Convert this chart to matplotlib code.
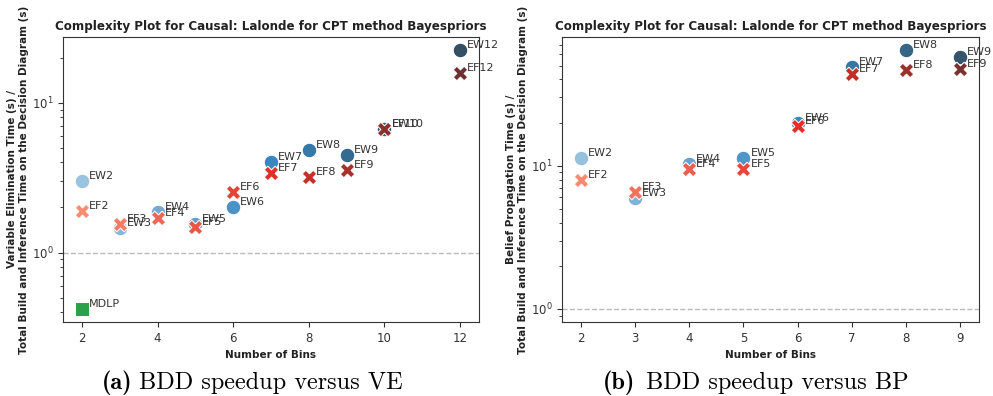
import matplotlib
matplotlib.use("Agg")
import matplotlib.pyplot as plt
import seaborn as sns

sns.set_style("ticks")
plt.rcParams['font.family'] = ['DejaVu Sans']

# Left panel: VE speedup
ve_bins = [2, 3, 4, 5, 6, 7, 8, 9, 10, 12]
ve_ew = [3.02, 1.47, 1.88, 1.54, 2.03, 4.04, 4.86, 4.50, 6.70, 22.6]
ve_ef = [1.90, 1.56, 1.71, 1.49, 2.55, 3.41, 3.21, 3.58, 6.70, 15.8]
ve_mdlp = 0.42

# Right panel: BP speedup
bp_bins = [2, 3, 4, 5, 6, 7, 8, 9]
bp_ew = [11.3, 5.97, 10.3, 11.3, 20.0, 49.2, 64.4, 57.8]
bp_ef = [7.94, 6.58, 9.53, 9.53, 19.05, 43.5, 46.2, 47.2]

title = "Complexity Plot for Causal: Lalonde for CPT method Bayespriors"
ve_ylabel = "Variable Elimination Time (s) /\nTotal Build and Inference Time on the Decision Diagram (s)"
bp_ylabel = "Belief Propagation Time (s) /\nTotal Build and Inference Time on the Decision Diagram (s)"

fig = plt.figure(figsize=(9.93, 3.96), dpi=100)
ax1 = fig.add_axes([0.0634, 0.187, 0.419, 0.72])
ax2 = fig.add_axes([0.566, 0.187, 0.420, 0.72])


def draw(ax, bins, ew, ef, ylabel):
    blues = sns.color_palette("Blues_d", len(bins) + 1)
    reds = sns.color_palette("Reds_d", len(bins) + 1)
    ax.axhline(1, color="#bbbbbb", ls="--", lw=1, zorder=1)
    for i, b in enumerate(bins):
        ax.scatter(b, ew[i], s=110, marker="o", color=blues[i],
                   edgecolor="white", linewidth=0.75, zorder=3)
        ax.annotate("EW%d" % b, (b, ew[i]), xytext=(5, 0), textcoords="offset points",
                    fontsize=8, color="#333333", va="bottom", zorder=5)
    for i, b in enumerate(bins):
        ax.scatter(b, ef[i], s=110, marker="X", color=reds[i],
                   edgecolor="white", linewidth=0.75, zorder=4)
        ax.annotate("EF%d" % b, (b, ef[i]), xytext=(5, 0), textcoords="offset points",
                    fontsize=8, color="#333333", va="bottom", zorder=5)
    ax.set_yscale("log")
    ax.set_title(title, fontsize=8.6, fontweight="bold", color="#222222", pad=5)
    ax.set_xlabel("Number of Bins", fontsize=7.5, fontweight="bold", color="#222222")
    ax.set_ylabel(ylabel, fontsize=7.5, fontweight="bold", color="#222222", labelpad=2)
    ax.tick_params(labelsize=8.5, colors="#333333")
    for s in ax.spines.values():
        s.set_color("#333333")


draw(ax1, ve_bins, ve_ew, ve_ef, ve_ylabel)
ax1.scatter(2, ve_mdlp, s=110, marker="s", color="#2ca04a", edgecolor="white",
            linewidth=0.75, zorder=3)
ax1.annotate("MDLP", (2, ve_mdlp), xytext=(5, 0), textcoords="offset points",
             fontsize=8, color="#333333", va="bottom")
draw(ax2, bp_bins, bp_ew, bp_ef, bp_ylabel)

# captions: bold tag + roman text
y_cap = 0.018
fig.text(132 / 993, y_cap, "(a)", ha="right", va="baseline", fontsize=17.5,
         family="cmb10", color="black")
fig.text(139 / 993, y_cap, "BDD speedup versus VE", ha="left", va="baseline",
         fontsize=17.5, family="cmr10", color="black")
fig.text(635 / 993, y_cap, "(b)", ha="right", va="baseline", fontsize=17.5,
         family="cmb10", color="black")
fig.text(646 / 993, y_cap, "BDD speedup versus BP", ha="left", va="baseline",
         fontsize=17.5, family="cmr10", color="black")

fig.savefig("out.png", dpi=100)
